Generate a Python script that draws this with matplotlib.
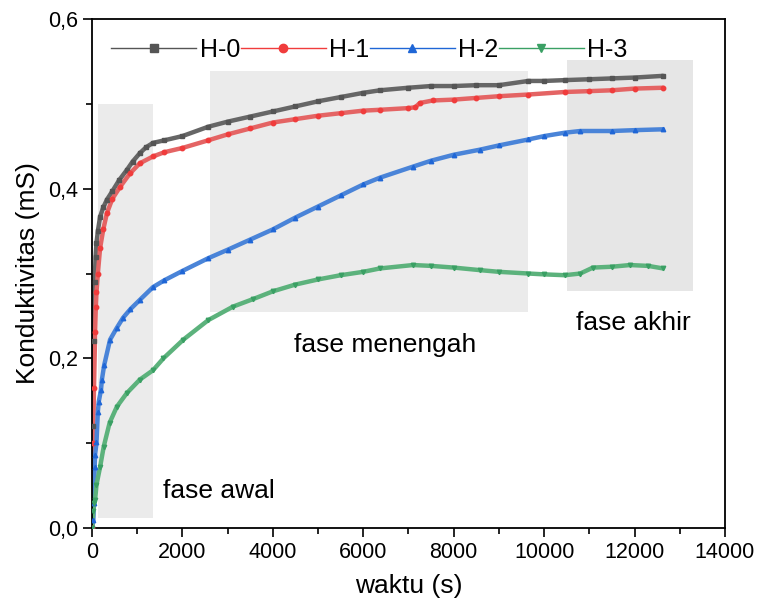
import matplotlib
matplotlib.use("Agg")
import matplotlib.pyplot as plt
from matplotlib.lines import Line2D
from matplotlib.patches import Rectangle
from matplotlib.ticker import MultipleLocator, FuncFormatter

plt.rcParams['font.family'] = ['Liberation Sans', 'DejaVu Sans']

series_names = ["H-0", "H-1", "H-2", "H-3"]

t_h0 = [0, 20, 40, 60, 80, 100, 130, 180, 250, 330, 450, 600, 770, 900, 1060, 1200, 1350, 1600, 2000, 2570,
        3000, 3500, 4000, 4500, 5000, 5500, 6000, 6370, 7000, 7500, 8000, 8500, 9000, 9650, 10000, 10460,
        11000, 11500, 12000, 12630]
v_h0 = [0.0, 0.12, 0.22, 0.29, 0.32, 0.336, 0.35, 0.367, 0.378, 0.387, 0.397, 0.41, 0.422, 0.432, 0.442, 0.449,
        0.454, 0.457, 0.462, 0.473, 0.479, 0.485, 0.491, 0.497, 0.503, 0.508, 0.513, 0.516, 0.519, 0.521, 0.521,
        0.522, 0.522, 0.527, 0.527, 0.528, 0.529, 0.530, 0.531, 0.533]

t_h1 = [0, 20, 45, 70, 85, 100, 130, 180, 250, 330, 450, 620, 840, 1060, 1350, 1600, 2000, 2570, 3000, 3500,
        4000, 4500, 5000, 5500, 6000, 6370, 7000, 7150, 7250, 7540, 8000, 8500, 9000, 9650, 10460, 11000,
        11500, 12000, 12630]
v_h1 = [0.0, 0.1, 0.165, 0.231, 0.26, 0.278, 0.30, 0.33, 0.352, 0.371, 0.388, 0.402, 0.418, 0.43, 0.438, 0.443,
        0.448, 0.457, 0.464, 0.471, 0.478, 0.482, 0.486, 0.489, 0.492, 0.493, 0.495, 0.496, 0.501, 0.504, 0.505,
        0.507, 0.509, 0.511, 0.514, 0.515, 0.516, 0.518, 0.519]

t_h2 = [0, 30, 45, 60, 70, 100, 130, 150, 200, 220, 270, 400, 550, 690, 850, 1060, 1350, 1600, 2000, 2570,
        3000, 3500, 4000, 4500, 5000, 5500, 6000, 6370, 7100, 7500, 8000, 8580, 9000, 9650, 10000, 10460,
        10800, 11500, 12000, 12630]
v_h2 = [0.0, 0.009, 0.03, 0.072, 0.086, 0.101, 0.137, 0.149, 0.163, 0.175, 0.192, 0.222, 0.236, 0.248, 0.258,
        0.269, 0.284, 0.292, 0.303, 0.318, 0.328, 0.34, 0.352, 0.366, 0.379, 0.392, 0.405, 0.413, 0.426, 0.433,
        0.44, 0.446, 0.451, 0.458, 0.462, 0.466, 0.468, 0.468, 0.469, 0.470]

t_h3 = [0, 30, 50, 70, 100, 180, 260, 390, 550, 770, 1060, 1350, 1580, 2020, 2570, 3120, 3570, 4000, 4500,
        5000, 5500, 6000, 6370, 7100, 7500, 8000, 8580, 9000, 9650, 10000, 10460, 10800, 11080, 11500, 11900,
        12300, 12630]
v_h3 = [0.0, 0.02, 0.03, 0.033, 0.051, 0.072, 0.096, 0.124, 0.143, 0.159, 0.175, 0.186, 0.2, 0.222, 0.245,
        0.261, 0.27, 0.279, 0.287, 0.293, 0.298, 0.302, 0.306, 0.31, 0.309, 0.307, 0.304, 0.302, 0.300, 0.299,
        0.298, 0.300, 0.307, 0.308, 0.31, 0.309, 0.306]

phase_labels = ["fase awal", "fase menengah", "fase akhir"]
phase_x = [(130, 1350), (2600, 9650), (10500, 13300)]
phase_y = [(0.012, 0.5), (0.255, 0.539), (0.279, 0.552)]
phase_colors = ["#ebebeb", "#ebebeb", "#e6e6e6"]

line_colors = ["#666666", "#e46464", "#4a84d8", "#5cb27c"]
marker_colors = ["#555555", "#f03c3c", "#1f66d6", "#3aa064"]
markers = ["s", "o", "^", "v"]

fig = plt.figure(figsize=(7.57, 6.06), dpi=100)
ax = fig.add_axes([0.1215, 0.1287, 0.8362, 0.8399])

for (x0, x1), (y0, y1), c in zip(phase_x, phase_y, phase_colors):
    ax.add_patch(Rectangle((x0, y0), x1 - x0, y1 - y0, facecolor=c, edgecolor="none", zorder=0))

ts = [t_h0, t_h1, t_h2, t_h3]
vs = [v_h0, v_h1, v_h2, v_h3]
for t, v, lc, mc, m in zip(ts, vs, line_colors, marker_colors, markers):
    ax.plot(t, v, color=lc, lw=3.2, solid_capstyle="round", zorder=2)
    ax.plot(t, v, color=mc, lw=1.0, marker=m, ms=3.2, mec=mc, mfc=mc, ls="none", zorder=3)

ax.text(1570, 0.044, phase_labels[0], fontsize=19, ha="left", va="center")
ax.text(6480, 0.216, phase_labels[1], fontsize=19, ha="center", va="center")
ax.text(10700, 0.242, phase_labels[2], fontsize=19, ha="left", va="center")

ax.set_xlim(0, 14000)
ax.set_ylim(0, 0.6)
ax.xaxis.set_major_locator(MultipleLocator(2000))
ax.xaxis.set_minor_locator(MultipleLocator(1000))
ax.yaxis.set_major_locator(MultipleLocator(0.2))
ax.yaxis.set_minor_locator(MultipleLocator(0.1))
ax.yaxis.set_major_formatter(FuncFormatter(lambda v, p: f"{v:.1f}".replace(".", ",")))
ax.tick_params(which="both", direction="out", top=False, right=False, labelsize=15.5, width=1.2)
ax.tick_params(which="major", length=6.5)
ax.tick_params(which="minor", length=4.5)
for s in ax.spines.values():
    s.set_linewidth(1.3)

ax.set_xlabel("waktu (s)", fontsize=19, labelpad=8)
ax.set_ylabel("Konduktivitas (mS)", fontsize=19, labelpad=6)

handles = [Line2D([], [], color=lc, lw=1.0, marker=m, ms=6, mec=mc, mfc=mc)
           for lc, mc, m in zip(marker_colors, marker_colors, markers)]
ax.legend(handles, series_names, ncol=4, loc="upper left", bbox_to_anchor=(0.005, 0.995),
          frameon=False, fontsize=18, handlelength=3.4, handletextpad=0.15, columnspacing=0.0,
          borderaxespad=0.25)

fig.savefig("out.png", dpi=100)
